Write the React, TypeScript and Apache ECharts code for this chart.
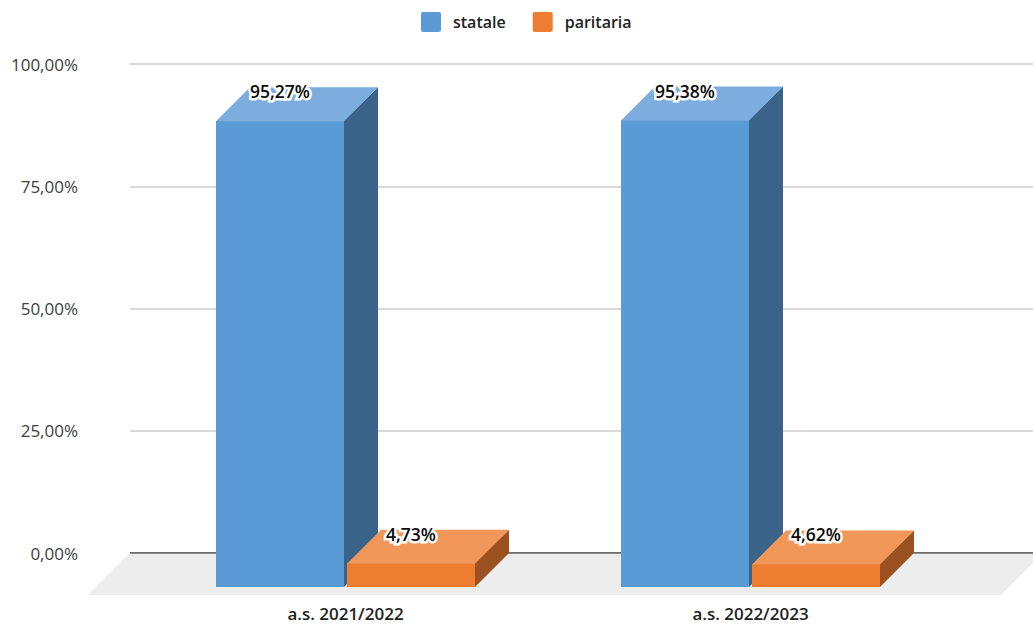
import React, { useEffect, useRef } from "react";
import * as echarts from "echarts";

const categories = ["a.s. 2021/2022", "a.s. 2022/2023"];
const statale = [95.27, 95.38];
const paritaria = [4.73, 4.62];
const valueTicks = [0, 25, 50, 75, 100];

const FONT = "'Open Sans', 'Noto Sans', sans-serif";
const DEPTH = 34;
const BAR_WIDTH = 128;
const SWATCH = "path://M2,0H18a2,2 0 0 1 2,2V18a2,2 0 0 1 -2,2H2a2,2 0 0 1 -2,-2V2a2,2 0 0 1 2,-2Z";

const percent = (v: number) => v.toFixed(2).replace(".", ",") + "%";

// Draws one extruded bar: the value sits on the back plane, the front face is shifted by DEPTH.
// The side and top faces run slightly under the front face so no seam shows at their shared edges.
function prism(colors: { front: string; top: string; side: string }, offset: number) {
  return (_params: any, api: any) => {
    const idx = api.value(0);
    const value = api.value(1);
    const [cx, backTop] = api.coord([idx, value]);
    const [, backBase] = api.coord([idx, 0]);
    const x0 = cx + offset;
    const x1 = x0 + BAR_WIDTH;
    const frontTop = backTop + DEPTH;
    const frontBase = backBase + DEPTH;
    const poly = (points: number[][], fill: string) => ({
      type: "polygon",
      shape: { points },
      style: { fill },
    });
    return {
      type: "group",
      children: [
        poly([[x1 - 1, frontTop], [x1 + DEPTH, backTop], [x1 + DEPTH, backBase], [x1, frontBase], [x1 - 1, frontBase]], colors.side),
        poly([[x0, frontTop + 1], [x0, frontTop], [x0 + DEPTH, backTop], [x1 + DEPTH, backTop], [x1, frontTop], [x1, frontTop + 1]], colors.top),
        {
          type: "rect",
          shape: { x: x0, y: frontTop, width: BAR_WIDTH, height: frontBase - frontTop },
          style: { fill: colors.front },
        },
        {
          type: "text",
          z2: 10,
          style: {
            x: (x0 + x1) / 2,
            y: backTop + 4,
            text: percent(value),
            align: "center",
            verticalAlign: "middle",
            font: `600 17.5px ${FONT}`,
            fill: "#0a0a0a",
            stroke: "#ffffff",
            lineWidth: 5,
          },
        },
      ],
    };
  };
}

// Floor of the 3D plot, a parallelogram hanging below the zero line.
function floor(params: any, api: any) {
  const sys = params.coordSys;
  const [, y0] = api.coord([0, 0]);
  const drop = 42;
  return {
    type: "polygon",
    shape: {
      points: [
        [sys.x, y0],
        [sys.x + sys.width + 10, y0],
        [sys.x + sys.width + 10 - drop, y0 + drop],
        [sys.x - drop, y0 + drop],
      ],
    },
    style: { fill: "#EDEDED" },
  };
}

export default function App() {
  const ref = useRef<HTMLDivElement>(null);

  useEffect(() => {
    const chart = echarts.init(ref.current!, undefined, { renderer: "svg" });
    const seriesData = (values: number[]) => values.map((v, i) => [i, v]);
    chart.setOption({
      animation: false,
      backgroundColor: "#ffffff",
      textStyle: { fontFamily: FONT },
      legend: {
        left: 416,
        top: 7,
        itemWidth: 20,
        itemHeight: 20,
        itemGap: 27,
        icon: SWATCH,
        textStyle: {
          fontFamily: FONT,
          fontSize: 16,
          fontWeight: 600,
          color: "#222222",
          padding: [0, 0, 0, 7],
        },
        data: ["statale", "paritaria"],
      },
      grid: [
        { left: 130, right: 0, top: 64, height: 489 },
        { left: 143, width: 810, top: 64, height: 489 },
      ],
      xAxis: [
        { type: "value", gridIndex: 0, min: 0, max: 1, show: false },
        {
          type: "category",
          gridIndex: 1,
          data: categories,
          axisLine: { show: false },
          axisTick: { show: false },
          axisLabel: { margin: 52, fontSize: 17, fontWeight: 600, color: "#222222", fontFamily: FONT },
        },
      ],
      yAxis: [
        {
          type: "value",
          gridIndex: 0,
          min: valueTicks[0],
          max: valueTicks[valueTicks.length - 1],
          interval: 25,
          axisLine: { show: false },
          axisTick: { show: false },
          axisLabel: {
            margin: 52,
            fontSize: 17,
            color: "#404040",
            fontFamily: FONT,
            formatter: (v: number) => percent(v),
          },
          splitLine: {
            lineStyle: { color: "#CCCCCC", width: 1.5 },
          },
        },
        { type: "value", gridIndex: 1, min: 0, max: 100, show: false },
      ],
      series: [
        {
          type: "custom",
          silent: true,
          xAxisIndex: 0,
          yAxisIndex: 0,
          z: 1,
          data: [[0, 0]],
          clip: false,
          renderItem: floor,
        },
        {
          type: "line",
          silent: true,
          xAxisIndex: 0,
          yAxisIndex: 0,
          z: 2,
          data: [[0, 0], [1, 0]],
          symbol: "none",
          lineStyle: { color: "#444444", width: 1.5 },
        },
        {
          name: "statale",
          type: "custom",
          xAxisIndex: 1,
          yAxisIndex: 1,
          z: 3,
          clip: false,
          itemStyle: { color: "#5B9BD5" },
          data: seriesData(statale),
          renderItem: prism({ front: "#5B9BD5", top: "#7CADDE", side: "#3A6389" }, -129.5),
        },
        {
          name: "paritaria",
          type: "custom",
          xAxisIndex: 1,
          yAxisIndex: 1,
          z: 4,
          clip: false,
          itemStyle: { color: "#ED7D31" },
          data: seriesData(paritaria),
          renderItem: prism({ front: "#ED7D31", top: "#F1975A", side: "#9B5220" }, 1.5),
        },
      ],
    });
    return () => chart.dispose();
  }, []);

  return (
    <div
      ref={ref}
      style={{ position: "fixed", left: 0, top: 0, width: 1033, height: 624 }}
    />
  );
}
